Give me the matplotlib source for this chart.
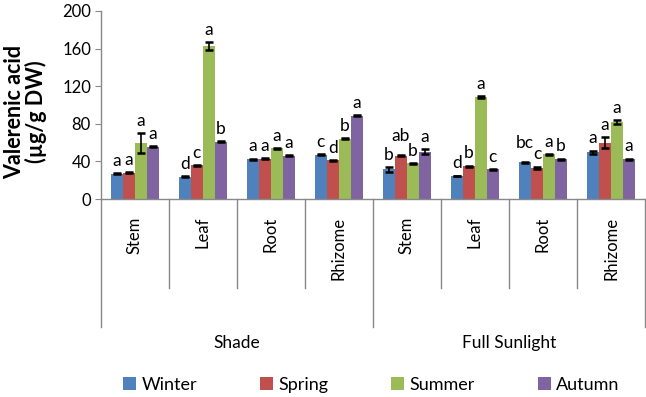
import matplotlib
matplotlib.use("Agg")
import matplotlib.pyplot as plt
import matplotlib.transforms as mtransforms
from matplotlib.patches import Patch
import numpy as np

plt.rcParams['font.family'] = ['Lato', 'DejaVu Sans']

categories = ['Stem', 'Leaf', 'Root', 'Rhizome', 'Stem', 'Leaf', 'Root', 'Rhizome']
groups = ['Shade', 'Full Sunlight']
seasons = ['Winter', 'Spring', 'Summer', 'Autumn']

winter = [27, 23.5, 42.5, 47, 31.5, 24.5, 39, 49.5]
spring = [28, 36, 43, 41, 46, 35, 33, 60]
summer = [59.5, 163, 54, 64, 38, 108.5, 47.5, 82]
autumn = [55.5, 61, 46, 88.5, 50.5, 31.5, 42.5, 42.5]

winter_err = [0.6, 0.6, 0.5, 0.5, 2.5, 0.5, 0.5, 2.0]
spring_err = [0.5, 0.5, 0.5, 0.5, 0.5, 0.5, 1.5, 5.5]
summer_err = [11, 4, 0.6, 0.5, 0.5, 0.6, 0.5, 2.0]
autumn_err = [0.6, 0.6, 0.5, 0.5, 3.0, 0.5, 0.5, 0.5]

winter_lbl = ['a', 'd', 'a', 'c', 'b', 'd', 'bc', 'a']
spring_lbl = ['a', 'c', 'a', 'd', 'ab', 'b', 'c', 'a']
summer_lbl = ['a', 'a', 'a', 'b', 'b', 'a', 'a', 'a']
autumn_lbl = ['a', 'b', 'a', 'a', 'a', 'c', 'b', 'a']

colors = ['#4F81BD', '#C0504D', '#9BBB59', '#8064A2']

values = [winter, spring, summer, autumn]
errs = [winter_err, spring_err, summer_err, autumn_err]
lbls = [winter_lbl, spring_lbl, summer_lbl, autumn_lbl]

fig = plt.figure(figsize=(6.46, 3.97), dpi=100)
ax = fig.add_axes([0.1559, 0.4987, 0.8426, 0.4736])

n = len(categories)
x = np.arange(n)
bw = 0.176
for i in range(4):
    pos = x + (i - 1.5) * bw
    ax.bar(pos, values[i], bw, color=colors[i], zorder=2)
    ax.errorbar(pos, values[i], yerr=errs[i], fmt='none', ecolor='black',
                elinewidth=1.2, capsize=3.2, capthick=1.8, zorder=3)
    for p, v, e, t in zip(pos, values[i], errs[i], lbls[i]):
        off = 8 if len(t) > 1 else 3
        ax.annotate(t, (p, v + e), xytext=(0, off), textcoords='offset points',
                    ha='center', va='bottom', fontsize=12.5, color='black')

ax.set_xlim(-0.5, n - 0.5)
ax.set_ylim(0, 200)
ax.set_yticks([0, 40, 80, 120, 160, 200])
ax.tick_params(axis='y', labelsize=12, length=4, color='#888888', direction='out', pad=3)
ax.set_xticks([])
for s in ['top', 'right']:
    ax.spines[s].set_visible(False)
for s in ['left', 'bottom']:
    ax.spines[s].set_color('#888888')
    ax.spines[s].set_linewidth(1.0)

trans = mtransforms.blended_transform_factory(ax.transData, ax.transAxes)
# separators
for b in range(n + 1):
    xb = b - 0.5
    yb = -0.681 if b % 4 == 0 else -0.473
    ax.plot([xb, xb], [0, yb], color='#888888', lw=1.0, transform=trans, clip_on=False)

for i, c in enumerate(categories):
    ax.text(i, -0.095, c, rotation=90, ha='center', va='top', fontsize=12,
            transform=trans)

for g, name in enumerate(groups):
    ax.text(g * 4 + 1.5, -0.765, name, ha='center', va='center', fontsize=12.5,
            transform=trans)

fig.text(0.040, 0.718, 'Valerenic acid\n(µg/g DW)', rotation=90, ha='center',
         va='center', fontsize=15.5, fontweight='bold', linespacing=1.0)

handles = [Patch(facecolor=colors[i], edgecolor='none', label=seasons[i]) for i in range(4)]
fig.legend(handles=handles, loc='center', bbox_to_anchor=(0.575, 0.03), ncol=4,
           frameon=False, fontsize=13, handlelength=0.7, handleheight=0.7,
           handletextpad=0.3, columnspacing=3.5)

fig.savefig('out.png', dpi=100)
